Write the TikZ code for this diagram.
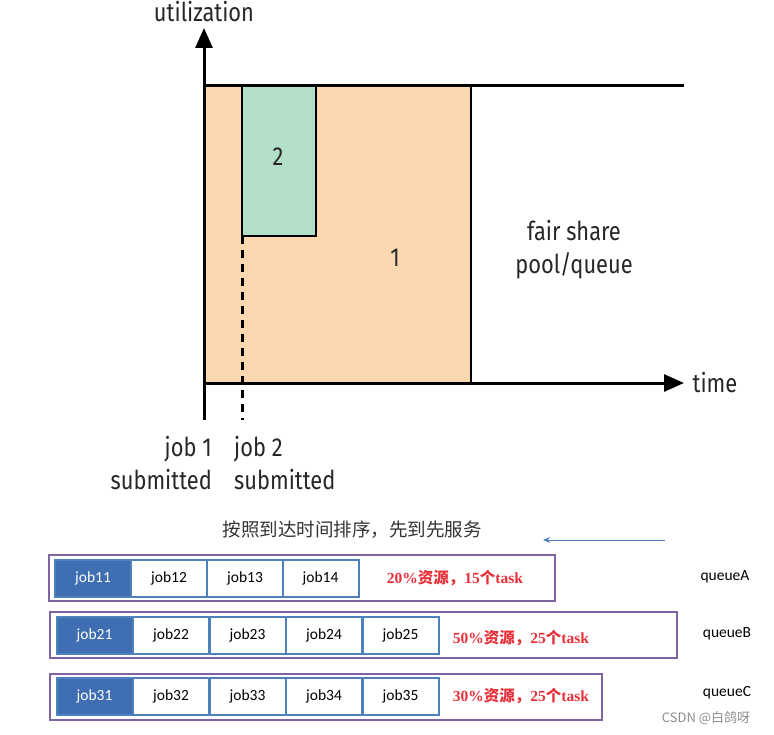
\documentclass[tikz,border=0pt]{standalone}
\usepackage{fontspec}
\setmainfont{Liberation Serif}
\newfontfamily\chartfont[FakeStretch=0.84]{Fira Sans}
\newfontfamily\boxfont{Carlito}
\newfontfamily\cjkfont{Noto Sans CJK SC}
\usetikzlibrary{arrows.meta}
\definecolor{peach}{HTML}{FCD8B0}
\definecolor{mint}{HTML}{B3DEC8}
\definecolor{jobblue}{HTML}{3F6FB2}
\definecolor{edgeblue}{HTML}{4F81BD}
\definecolor{qpurple}{HTML}{8064A2}
\definecolor{sharered}{HTML}{E8303A}

\begin{document}
\begin{tikzpicture}[x=1pt, y=-1pt,
  axis/.style={line width=3pt, -{Triangle[length=20pt,width=17pt]}},
  bar/.style={line width=2.8pt},
  lbl/.style={font=\chartfont\fontsize{26}{33}\selectfont, inner sep=0pt, text=black!85},
  queue/.style={draw=qpurple, line width=2pt, minimum height=46pt, inner sep=0pt},
  job/.style={draw=edgeblue, fill=white, line width=2pt, minimum width=76pt,
              minimum height=37pt, inner sep=0pt, font=\boxfont\fontsize{15.5}{18}\selectfont},
  jobhead/.style={job, fill=jobblue, text=white},
  share/.style={font=\bfseries\fontsize{15.5}{18}\selectfont, text=sharered},
  qname/.style={font=\boxfont\fontsize{15.5}{18}\selectfont}]
\useasboundingbox (0,0) rectangle (774,735);
% utilization chart
\coordinate (o)    at (204,383);
\coordinate (ybot) at (204,420);
\coordinate (ytop) at (204,28);
\coordinate (xend) at (684,383);
\coordinate (cap)  at (684,86);
\coordinate (sub2) at (242,236);
\coordinate (dash) at (242,420);
\fill[peach] (204,86) rectangle (471,383);
\filldraw[fill=mint, draw=black, bar] (242,86) rectangle (316,236);
\draw[bar] (471,86) -- (471,383);
\draw[line width=3pt] (204,86) -- (cap);
\draw[axis] (ybot) -- (ytop);
\draw[axis] (o) -- (xend);
\draw[line width=3pt, dash pattern=on 8pt off 6pt] (sub2) -- (dash);
\node[lbl] (util)  at (204,12)  {utilization};
\node[lbl] (time)  at (715,383) {time};
\node[lbl] (j2)    at (278,157) {2};
\node[lbl] (j1)    at (395,258) {1};
\node[lbl, align=center] (pool) at (574,250) {fair share\\pool/queue};
\node[lbl, align=right, anchor=east] (sub1t) at (212,463) {job 1\\submitted};
\node[lbl, align=left, anchor=west] (sub2t)  at (234,463) {job 2\\submitted};
% queues
\node[font=\cjkfont\fontsize{18.5}{22}\selectfont, text=black!80] (order) at (352,530) {按照到达时间排序，先到先服务};
\coordinate (arrs) at (665,540);
\coordinate (arre) at (543,540);
\draw[edgeblue, line width=1pt, -{Stealth[length=7pt,width=6pt]}] (arrs) -- (arre);
\node[queue, minimum width=506pt] (qa) at (302,578) {};
\node[queue, minimum width=627pt] (qb) at (363.5,635) {};
\node[queue, minimum width=552pt] (qc) at (326,696.5) {};
\node[jobhead] (job11) at (93,578)  {job11};
\node[job]     (job12) at (169,578) {job12};
\node[job]     (job13) at (245,578) {job13};
\node[job]     (job14) at (320.5,578) {job14};
\node[jobhead] (job21) at (94.5,635)  {job21};
\node[job]     (job22) at (171,635)   {job22};
\node[job]     (job23) at (247.5,635) {job23};
\node[job]     (job24) at (324,635)   {job24};
\node[job]     (job25) at (400.5,635) {job25};
\node[jobhead] (job31) at (94.5,696)  {job31};
\node[job]     (job32) at (171,696)   {job32};
\node[job]     (job33) at (247.5,696) {job33};
\node[job]     (job34) at (324,696)   {job34};
\node[job]     (job35) at (400.5,696) {job35};
\node[share] (sa) at (455,578) {20\%{\cjkfont 资源，}15{\cjkfont 个}task};
\node[share] (sb) at (521,638) {50\%{\cjkfont 资源，}25{\cjkfont 个}task};
\node[share] (sc) at (521,696) {30\%{\cjkfont 资源，}25{\cjkfont 个}task};
\node[qname] (qna) at (725,577) {queueA};
\node[qname] (qnb) at (727,634) {queueB};
\node[qname] (qnc) at (727,693) {queueC};
\node[font=\cjkfont\fontsize{13}{15}\selectfont, text=black!45] (mark) at (706,718) {CSDN @白鸽呀};
\end{tikzpicture}
\end{document}
